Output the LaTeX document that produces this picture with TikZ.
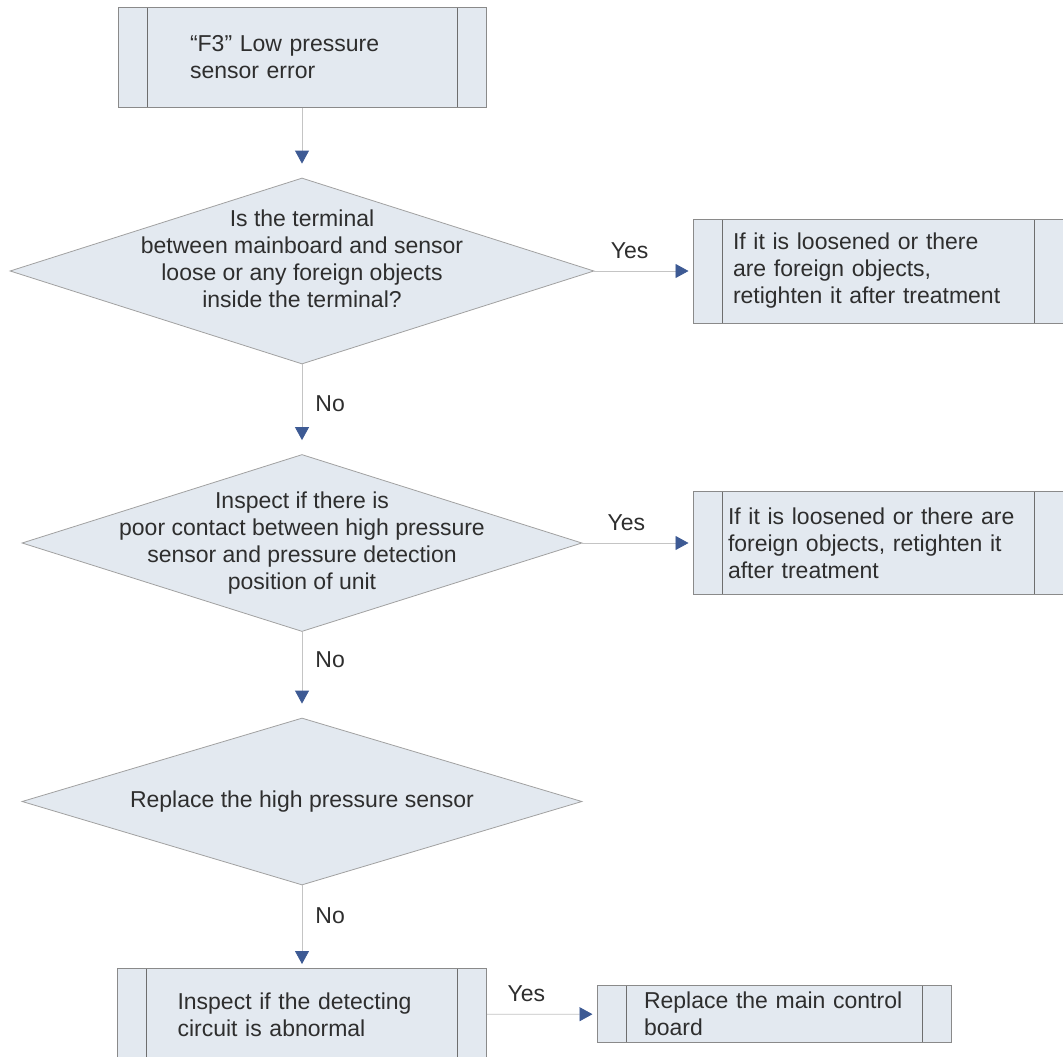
\documentclass[tikz,border=0pt]{standalone}
\usepackage{fontspec}
\setmainfont{Liberation Sans}
\usepackage{tikz}
\usetikzlibrary{arrows.meta,shapes.geometric,positioning}
\definecolor{BoxFill}{HTML}{E3E9F0}
\definecolor{BoxEdge}{HTML}{8A8A8A}
\definecolor{BarLine}{HTML}{6E6E6E}
\definecolor{WireGray}{HTML}{C4C4C4}
\definecolor{TipBlue}{HTML}{3D5A94}
\definecolor{InkGray}{HTML}{2E2E2E}
\newcommand{\flowfont}{\fontsize{23}{27}\selectfont}
\tikzset{
  procbox/.style={draw=BoxEdge,fill=BoxFill,line width=1pt,align=left,text=InkGray,font=\flowfont,inner ysep=4pt,
    path picture={
      \draw[BarLine,line width=1pt] ([xshift=29pt]path picture bounding box.north west)--([xshift=29pt]path picture bounding box.south west);
      \draw[BarLine,line width=1pt] ([xshift=-29pt]path picture bounding box.north east)--([xshift=-29pt]path picture bounding box.south east);}},
  decision/.style={diamond,draw=BoxEdge!80,fill=BoxFill,line width=.8pt,inner sep=0pt},
  qtext/.style={align=center,text=InkGray,font=\flowfont,inner sep=0pt},
  flowarrow/.style={WireGray,line width=.8pt,-{Triangle[length=13pt,width=14pt,color=TipBlue]},shorten >=4pt},
  branch/.style={text=InkGray,font=\flowfont,inner sep=0pt}
}
\begin{document}
\begin{tikzpicture}[x=1pt,y=-1pt]
\useasboundingbox[fill=white] (0,0) rectangle (1063,1057);
\node[procbox,minimum width=368pt,minimum height=99pt,text width=224pt,inner xsep=72pt] (fault) at (302,57.5) {“F3” Low pressure\\sensor error};
\node[decision,minimum width=584pt,minimum height=186pt] (q1) at (302,271) {};
\node[qtext] (q1text) at ([yshift=12pt]q1.center) {Is the terminal\\between mainboard and sensor\\loose or any foreign objects\\inside the terminal?};
\node[procbox,minimum height=104pt,text width=290pt,inner xsep=40pt] (fix1) at (878,271) {If it is loosened or there\\are foreign objects,\\retighten it after treatment};
\node[decision,minimum width=560pt,minimum height=177pt] (q2) at (302,543) {};
\node[qtext] (q2text) at (q2.center) {Inspect if there is\\poor contact between high pressure\\sensor and pressure detection\\position of unit};
\node[procbox,minimum height=103pt,text width=300pt,inner xsep=35pt] (fix2) at (878,543) {If it is loosened or there are\\foreign objects, retighten it\\after treatment};
\node[decision,minimum width=560pt,minimum height=167pt] (q3) at (302,801.5) {};
\node[qtext] (q3text) at (q3.center) {Replace the high pressure sensor};
\node[procbox,anchor=north,minimum height=92pt,text width=249pt,inner xsep=60pt] (circuit) at (302,968) {Inspect if the detecting\\circuit is abnormal};
\node[procbox,minimum height=57pt,text width=260pt,inner xsep=47pt,inner ysep=2pt] (board) at (774,1014) {Replace the main control\\board};
\draw[flowarrow,shorten >=14pt] (fault) -- (q1);
\draw[flowarrow] (q1) -- (fix1) node[branch,pos=.36,above=12pt] (yes1) {Yes};
\draw[flowarrow,shorten >=14pt] (q1) -- (q2) node[branch,pos=.44,right=13pt] (no1) {No};
\draw[flowarrow] (q2) -- (fix2) node[branch,pos=.4,above=12pt] (yes2) {Yes};
\draw[flowarrow,shorten >=14pt] (q2) -- (q3) node[branch,pos=.33,right=13pt] (no2) {No};
\draw[flowarrow] (q3) -- (circuit) node[branch,pos=.37,right=13pt] (no3) {No};
\draw[flowarrow] (circuit) -- (board) node[branch,pos=.36,above=12pt] (yes3) {Yes};
\end{tikzpicture}
\end{document}
